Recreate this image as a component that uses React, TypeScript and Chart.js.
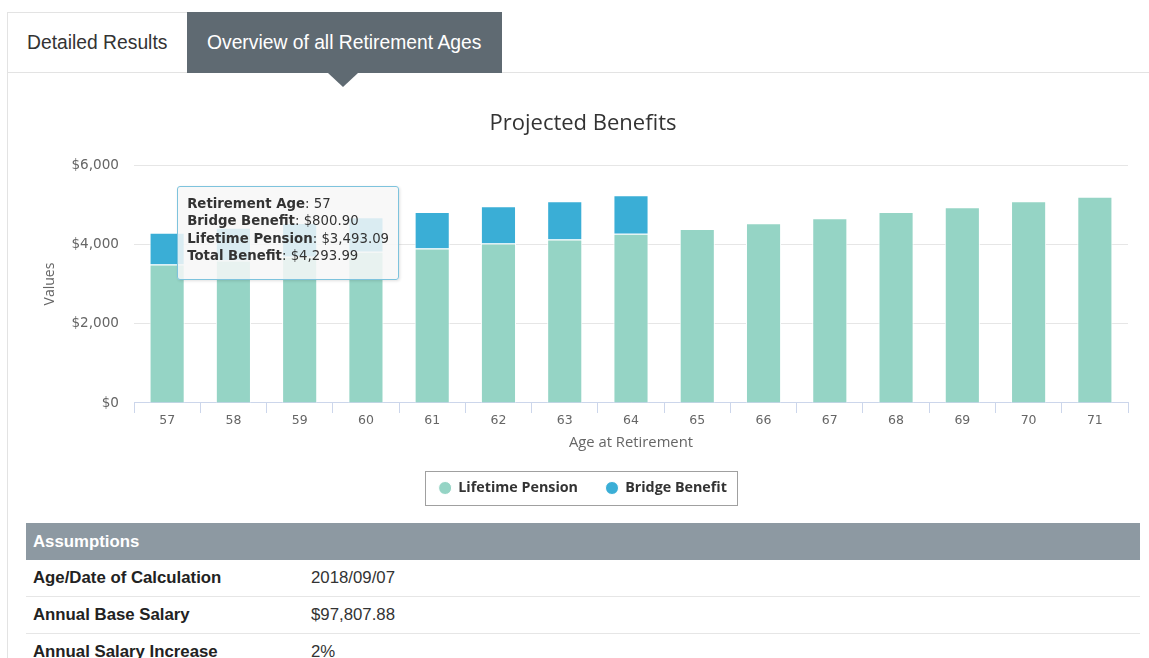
import React, { useEffect, useRef } from "react";
import { Chart, registerables } from "chart.js";

Chart.register(...registerables);

// ---- data ----
const categories = ["57", "58", "59", "60", "61", "62", "63", "64", "65", "66", "67", "68", "69", "70", "71"];
const lifetimePension = [3493.09, 3590, 3690, 3815, 3897, 4023, 4124, 4268, 4386, 4530, 4656, 4815, 4933, 5084, 5200];
const bridgeBenefit: (number | null)[] = [800.9, 826, 850, 870, 915, 940, 965, 972, null, null, null, null, null, null, null];
const yTicks = [0, 2000, 4000, 6000];
const seriesNames = ["Lifetime Pension", "Bridge Benefit"];
const tabLabels = ["Detailed Results", "Overview of all Retirement Ages"];
const assumptionLabels = ["Age/Date of Calculation", "Annual Base Salary", "Annual Salary Increase"];
const assumptionValues = ["2018/09/07", "$97,807.88", "2%"];
const tooltipIndex = 0;

const COLORS = { lifetime: "#95d4c5", bridge: "#3aaed6" };
const CANVAS_TOP = 95;
const CANVAS_LEFT = 0;
const PAD_LEFT = 38;

const money = (v: number) =>
  "$" + v.toLocaleString("en-US", { minimumFractionDigits: 2, maximumFractionDigits: 2 });

const legendBox = {
  id: "legendBox",
  afterDraw(chart: any) {
    const lg = chart.legend;
    if (!lg || !lg.legendHitBoxes || !lg.legendHitBoxes.length) return;
    const hb = lg.legendHitBoxes;
    const left = Math.min(...hb.map((h: any) => h.left)) - 14;
    const right = Math.max(...hb.map((h: any) => h.left + h.width)) + 10;
    const cy = hb[0].top + hb[0].height / 2;
    const ctx = chart.ctx;
    ctx.save();
    ctx.strokeStyle = "#a0a0a0";
    ctx.lineWidth = 1;
    ctx.strokeRect(Math.round(left) + 0.5, Math.round(cy - 17) + 0.5, Math.round(right - left), 34);
    ctx.restore();
  },
};

export default function App() {
  const canvasRef = useRef<HTMLCanvasElement | null>(null);
  const tipRef = useRef<HTMLDivElement | null>(null);

  useEffect(() => {
    document.body.style.margin = "0";
    const canvas = canvasRef.current;
    if (!canvas) return;

    const external = ({ chart, tooltip }: any) => {
      const el = tipRef.current;
      if (!el) return;
      if (tooltip.opacity === 0 || !tooltip.dataPoints || !tooltip.dataPoints.length) {
        el.style.display = "none";
        return;
      }
      const i = tooltip.dataPoints[0].dataIndex;
      const l = lifetimePension[i];
      const b = bridgeBenefit[i] ?? 0;
      const rows: [string, string][] = [
        ["Retirement Age", categories[i]],
        ["Bridge Benefit", money(b)],
        ["Lifetime Pension", money(l)],
        ["Total Benefit", money(l + b)],
      ];
      el.innerHTML = "";
      rows.forEach(([k, v]) => {
        const line = document.createElement("div");
        const bold = document.createElement("b");
        bold.textContent = k;
        line.appendChild(bold);
        line.appendChild(document.createTextNode(": " + v));
        el.appendChild(line);
      });
      const bar = chart.getDatasetMeta(1).data[i] || chart.getDatasetMeta(0).data[i];
      el.style.display = "block";
      el.style.left = CANVAS_LEFT + bar.x + 10 + "px";
      el.style.top = CANVAS_TOP + bar.y - 47 + "px";
    };

    const chart = new Chart(canvas, {
      type: "bar",
      data: {
        labels: categories,
        datasets: [
          {
            label: seriesNames[0],
            data: lifetimePension,
            backgroundColor: COLORS.lifetime,
            borderColor: "#ffffff",
            borderWidth: 1,
            barPercentage: 0.53,
            categoryPercentage: 1,
          },
          {
            label: seriesNames[1],
            data: bridgeBenefit,
            backgroundColor: COLORS.bridge,
            borderColor: "#ffffff",
            borderWidth: 1,
            barPercentage: 0.53,
            categoryPercentage: 1,
          },
        ],
      },
      options: {
        animation: false,
        responsive: false,
        events: [],
        layout: { padding: { left: PAD_LEFT, right: 21, top: 0, bottom: 9.85 } },
        interaction: { mode: "index", intersect: false },
        plugins: {
          title: {
            display: true,
            text: "Projected Benefits",
            color: "#333333",
            font: { family: "'Open Sans', sans-serif", size: 22, weight: "normal" },
            padding: { top: 15.8, bottom: 27.8 },
          },
          legend: {
            position: "bottom",
            labels: {
              usePointStyle: true,
              pointStyle: "circle",
              boxWidth: 12,
              boxHeight: 9.2,
              padding: 28,
              color: "#333333",
              font: { family: "'Open Sans', sans-serif", size: 14.3, weight: "bold" },
            },
          },
          tooltip: { enabled: false, external },
        },
        scales: {
          x: {
            stacked: true,
            grid: {
              display: true,
              drawOnChartArea: false,
              drawTicks: true,
              tickLength: 10,
              tickColor: "#ccd6eb",
            },
            border: { color: "#ccd6eb" },
            ticks: {
              color: "#666666",
              padding: 0,
              font: { family: "'DejaVu Sans', sans-serif", size: 12.5 },
            },
            title: {
              display: true,
              text: "Age at Retirement",
              color: "#666666",
              font: { family: "'Open Sans', sans-serif", size: 14.8 },
              padding: { top: 6, bottom: 1.1 },
            },
          },
          y: {
            stacked: true,
            min: yTicks[0],
            max: yTicks[yTicks.length - 1],
            afterBuildTicks: (scale: any) => {
              scale.ticks = yTicks.map((v) => ({ value: v }));
            },
            ticks: {
              color: "#666666",
              padding: 15,
              font: { family: "'DejaVu Sans', sans-serif", size: 13.6 },
              callback: (v: any) => "$" + Number(v).toLocaleString("en-US"),
            },
            grid: { color: "#e6e6e6", drawTicks: false },
            border: { display: false },
            title: {
              display: true,
              text: "Values",
              color: "#666666",
              font: { family: "'Open Sans', sans-serif", size: 14 },
              padding: { top: 3.6, bottom: 0 },
            },
            afterFit: (scale: any) => {
              scale.width = 134 - PAD_LEFT;
            },
          },
        },
      },
      plugins: [legendBox],
    } as any);

    const meta = chart.getDatasetMeta(1).data[tooltipIndex] as any;
    if (chart.tooltip && meta) {
      chart.tooltip.setActiveElements(
        [
          { datasetIndex: 0, index: tooltipIndex },
          { datasetIndex: 1, index: tooltipIndex },
        ],
        { x: meta.x, y: meta.y }
      );
    }

    return () => {
      chart.destroy();
    };
  }, []);

  const border = "#e3e3e3";
  const tabFont = "'Liberation Sans', Arial, sans-serif";

  return (
    <div
      style={{
        position: "relative",
        width: 1149,
        height: 658,
        overflow: "hidden",
        background: "#ffffff",
        fontFamily: tabFont,
      }}
    >
      {/* frame lines */}
      <div style={{ position: "absolute", left: 7, top: 12, width: 1, height: 646, background: border }} />
      <div style={{ position: "absolute", left: 7, top: 12, width: 180, height: 1, background: border }} />
      <div style={{ position: "absolute", left: 7, top: 72, width: 1142, height: 1, background: border }} />

      {/* tabs */}
      <div
        style={{
          position: "absolute",
          left: 27,
          top: 13,
          height: 60,
          lineHeight: "60px",
          fontSize: 19.3,
          color: "#333333",
        }}
      >
        {tabLabels[0]}
      </div>
      <div
        style={{
          position: "absolute",
          left: 187,
          top: 12,
          width: 295,
          height: 61,
          paddingLeft: 20,
          lineHeight: "62px",
          fontSize: 19.3,
          color: "#ffffff",
          background: "#5f6a72",
          whiteSpace: "nowrap",
        }}
      >
        {tabLabels[1]}
      </div>
      <div
        style={{
          position: "absolute",
          left: 328,
          top: 73,
          width: 0,
          height: 0,
          borderLeft: "15px solid transparent",
          borderRight: "15px solid transparent",
          borderTop: "14px solid #5f6a72",
        }}
      />

      {/* chart */}
      <canvas
        ref={canvasRef}
        width={1149}
        height={420}
        style={{ position: "absolute", left: CANVAS_LEFT, top: CANVAS_TOP, width: 1149, height: 420 }}
      />
      <div
        ref={tipRef}
        style={{
          position: "absolute",
          display: "none",
          pointerEvents: "none",
          background: "rgba(247,247,247,0.85)",
          border: "1px solid #7ec3dd",
          borderRadius: 3,
          padding: "8px 9px 14px 9px",
          fontFamily: "'DejaVu Sans', sans-serif",
          fontSize: 13.3,
          lineHeight: "17.5px",
          color: "#333333",
          whiteSpace: "nowrap",
          boxShadow: "1px 1px 3px rgba(0,0,0,0.12)",
        }}
      />

      {/* assumptions table */}
      <div
        style={{
          position: "absolute",
          left: 26,
          top: 523,
          width: 1107,
          height: 37,
          paddingLeft: 7,
          lineHeight: "37px",
          background: "#8d99a2",
          color: "#ffffff",
          fontWeight: "bold",
          fontSize: 16.8,
        }}
      >
        Assumptions
      </div>
      {assumptionLabels.map((lab, k) => (
        <div
          key={lab}
          style={{
            position: "absolute",
            left: 26,
            top: 560 + k * 37,
            width: 1114,
            height: 36,
            borderBottom: "1px solid #e6e6e6",
            lineHeight: "36px",
            fontSize: 16.8,
          }}
        >
          <span style={{ position: "absolute", left: 7, fontWeight: "bold", color: "#222222" }}>{lab}</span>
          <span style={{ position: "absolute", left: 285, color: "#333333" }}>{assumptionValues[k]}</span>
        </div>
      ))}
    </div>
  );
}
